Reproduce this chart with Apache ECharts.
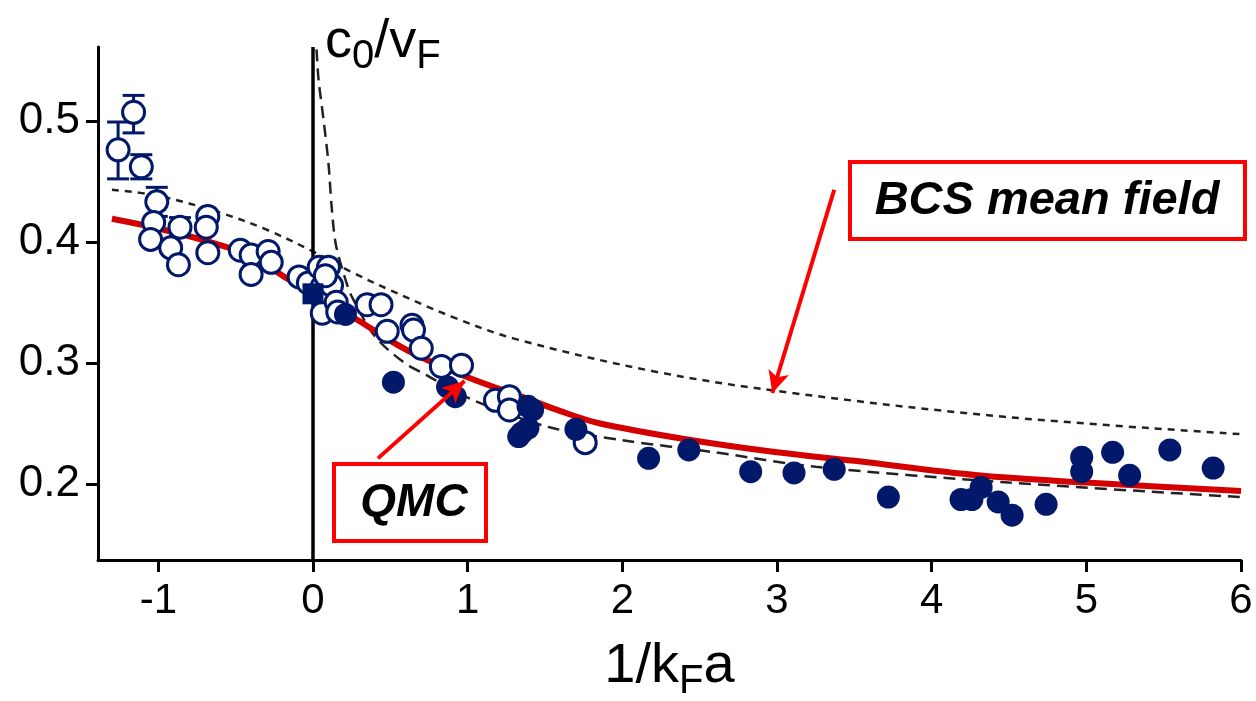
<!DOCTYPE html>
<html>
<head>
<meta charset="utf-8">
<script src="https://cdn.jsdelivr.net/npm/echarts@6/dist/echarts.min.js"></script>
<style>
html, body { margin: 0; padding: 0; background: #fff; }
#myChart { width: 1256px; height: 701px; }
</style>
</head>
<body>
<div id="myChart"></div>
<script>
// 刻度
const xTicks = [-1, 0, 1, 2, 3, 4, 5, 6]
const yTicks = [0.2, 0.3, 0.4, 0.5]

// QMC 曲线 (红)
const qmcLine = [[-1.3, 0.419], [-1.0, 0.411], [-0.7, 0.401], [-0.4, 0.388], [-0.16, 0.369], [0, 0.357],
    [0.28, 0.336], [0.6, 0.311], [1.0, 0.288], [1.37, 0.271], [1.6, 0.26], [1.85, 0.25], [2.4, 0.237],
    [3.0, 0.226], [3.5, 0.219], [4.3, 0.207], [5.0, 0.201], [6.0, 0.194]]
// BCS mean field (点线)
const bcsLine = [[-1.3, 0.443], [-1.0, 0.438], [-0.6, 0.424], [-0.3, 0.41], [0, 0.392], [0.25, 0.375],
    [0.5, 0.36], [0.9, 0.338], [1.3, 0.32], [2.2, 0.293], [3.1, 0.275], [4.5, 0.255], [6, 0.241]]
// BEC 侧 (虚线)
const becLine = [[0.023, 0.559], [0.036, 0.534], [0.068, 0.501], [0.1, 0.465], [0.12, 0.43], [0.146, 0.399],
    [0.2, 0.373], [0.25, 0.355], [0.4, 0.322], [0.58, 0.301], [0.73, 0.29], [1.02, 0.27], [1.52, 0.247],
    [2.0, 0.236], [2.6, 0.226], [3.25, 0.214], [4.5, 0.201], [6, 0.189]]

// 实验点
const openPts = [[-1.26, 0.476], [-1.16, 0.507], [-1.11, 0.462], [-1.01, 0.433], [-1.03, 0.416], [-1.05, 0.402],
    [-0.92, 0.395], [-0.87, 0.381], [-0.86, 0.412], [-0.68, 0.421], [-0.69, 0.412], [-0.68, 0.391],
    [-0.47, 0.393], [-0.40, 0.389], [-0.40, 0.373], [-0.29, 0.392], [-0.27, 0.383], [-0.09, 0.371],
    [-0.03, 0.366], [0.04, 0.379], [0.06, 0.363], [0.10, 0.352], [0.06, 0.341], [0.10, 0.379], [0.12, 0.364],
    [0.15, 0.350], [0.16, 0.342], [0.08, 0.372], [0.35, 0.348], [0.44, 0.348], [0.48, 0.326], [0.64, 0.331],
    [0.65, 0.327], [0.70, 0.312], [0.83, 0.297], [0.96, 0.298], [1.18, 0.269], [1.27, 0.272], [1.27, 0.261],
    [1.76, 0.234]]
const filledPts = [[0.21, 0.340], [0.52, 0.284], [0.87, 0.280], [0.92, 0.272], [1.39, 0.264], [1.42, 0.261],
    [1.33, 0.239], [1.35, 0.242], [1.39, 0.246], [1.70, 0.245], [2.17, 0.221], [2.43, 0.228], [2.83, 0.210],
    [3.11, 0.209], [3.37, 0.212], [3.72, 0.189], [4.19, 0.187], [4.26, 0.187], [4.32, 0.197], [4.43, 0.185],
    [4.52, 0.174], [4.74, 0.183], [4.97, 0.222], [4.97, 0.210], [5.17, 0.226], [5.28, 0.207], [5.54, 0.228],
    [5.82, 0.213]]
const squarePts = [[0.0, 0.357]]
// 误差棒 [x, y, 下, 上]
const errBars = [[-1.26, 0.476, 0.452, 0.499], [-1.16, 0.507, 0.490, 0.521], [-1.11, 0.462, 0.452, 0.472],
    [-1.01, 0.433, 0.421, 0.445], [-0.86, 0.412, 0.405, 0.420]]

// 箭头
const bcsArrow = [[3.37, 0.443], [2.97, 0.275]]
const qmcArrow = [[0.42, 0.221], [0.98, 0.285]]

const navy = '#02186a'
const font = '"Liberation Sans", Arial, sans-serif'
const narrow = '"Liberation Sans Narrow", "Liberation Sans", Arial, sans-serif'

let myChart = echarts.init(document.getElementById('myChart'))

let option = {
    animation: false,
    backgroundColor: '#fff',
    title: {
        text: '{a|c}{s|0}{a|/v}{s|F}',
        left: 320,
        top: 2,
        textStyle: {
            rich: {
                a: { fontSize: 54, fontFamily: font, fontWeight: 'normal', color: '#000' },
                s: { fontSize: 40, fontFamily: narrow, fontWeight: 'normal', color: '#000', padding: [30, 0, 0, 0] }
            }
        }
    },
    grid: {
        left: 98,
        right: 15,
        top: 47,
        bottom: 141,
        outerBoundsMode: 'none'
    },
    xAxis: {
        type: 'value',
        min: -1.39,
        max: 6,
        splitLine: { show: false },
        axisLine: { onZero: false, lineStyle: { color: '#000', width: 3 } },
        axisTick: { customValues: xTicks, length: 12, lineStyle: { color: '#000', width: 3 } },
        axisLabel: {
            customValues: xTicks,
            margin: 20,
            fontSize: 42,
            fontFamily: narrow,
            color: '#000'
        },
        name: '{a|1/k}{s|F}{a|a}',
        nameLocation: 'middle',
        nameGap: 72,
        nameTextStyle: {
            rich: {
                a: { fontSize: 56, fontFamily: narrow, color: '#000' },
                s: { fontSize: 40, fontFamily: narrow, color: '#000', padding: [30, 0, 0, 0] }
            }
        }
    },
    yAxis: {
        type: 'value',
        min: 0.137,
        max: 0.561,
        splitLine: { show: false },
        axisLine: { onZero: false, lineStyle: { color: '#000', width: 3 } },
        axisTick: { customValues: yTicks, length: 12, lineStyle: { color: '#000', width: 3 } },
        axisLabel: {
            customValues: yTicks,
            margin: 18,
            fontSize: 44,
            fontFamily: font,
            color: '#000',
            formatter: v => v.toFixed(1)
        }
    },
    graphic: [
        {
            type: 'rect',
            shape: { x: 850, y: 162, width: 395, height: 77 },
            style: { fill: '#fff', stroke: '#ff0000', lineWidth: 4 },
            z: 100
        },
        {
            type: 'text',
            x: 1047, y: 201,
            style: {
                text: 'BCS mean field', fontSize: 47, fontWeight: 'bold', fontStyle: 'italic',
                fontFamily: font, fill: '#000', align: 'center', verticalAlign: 'middle'
            },
            z: 101
        },
        {
            type: 'rect',
            shape: { x: 334, y: 464, width: 152, height: 77 },
            style: { fill: '#fff', stroke: '#ff0000', lineWidth: 4 },
            z: 100
        },
        {
            type: 'text',
            x: 414, y: 503,
            style: {
                text: 'QMC', fontSize: 46, fontWeight: 'bold', fontStyle: 'italic',
                fontFamily: font, fill: '#000', align: 'center', verticalAlign: 'middle'
            },
            z: 101
        }
    ],
    series: [
        {
            name: 'BCS',
            type: 'line',
            data: bcsLine,
            smooth: 0.35,
            showSymbol: false,
            z: 2,
            lineStyle: { color: '#222', width: 2.5, type: [7, 6] },
            markLine: {
                silent: true,
                symbol: 'none',
                label: { show: false },
                lineStyle: { color: '#000', width: 3.5, type: 'solid' },
                data: [{ xAxis: 0 }]
            }
        },
        {
            name: 'BEC',
            type: 'line',
            data: becLine,
            smooth: 0.3,
            showSymbol: false,
            z: 2,
            lineStyle: { color: '#222', width: 2.5, type: [12, 7] }
        },
        {
            name: 'QMC',
            type: 'line',
            data: qmcLine,
            smooth: 0.35,
            showSymbol: false,
            z: 3,
            lineStyle: { color: '#d40000', width: 6 },
            markLine: {
                silent: true,
                symbol: ['none', 'arrow'],
                symbolSize: [16, 22],
                label: { show: false },
                lineStyle: { color: '#ff0000', width: 4, type: 'solid' },
                data: [
                    [{ coord: bcsArrow[0] }, { coord: bcsArrow[1] }],
                    [{ coord: qmcArrow[0] }, { coord: qmcArrow[1] }]
                ],
                z: 50
            }
        },
        {
            type: 'custom',
            data: errBars,
            z: 4,
            encode: { x: 0, y: 1 },
            renderItem: function (params, api) {
                let x = api.value(0)
                let lo = api.coord([x, api.value(2)])
                let hi = api.coord([x, api.value(3)])
                let w = 11
                return {
                    type: 'group',
                    children: [
                        { type: 'line', shape: { x1: lo[0], y1: lo[1], x2: hi[0], y2: hi[1] }, style: { stroke: navy, lineWidth: 3 } },
                        { type: 'line', shape: { x1: lo[0] - w, y1: lo[1], x2: lo[0] + w, y2: lo[1] }, style: { stroke: navy, lineWidth: 3 } },
                        { type: 'line', shape: { x1: hi[0] - w, y1: hi[1], x2: hi[0] + w, y2: hi[1] }, style: { stroke: navy, lineWidth: 3 } }
                    ]
                }
            }
        },
        {
            type: 'scatter',
            data: openPts,
            symbol: 'circle',
            symbolSize: 22,
            z: 5,
            itemStyle: { color: '#fff', borderColor: navy, borderWidth: 3, opacity: 1 }
        },
        {
            type: 'scatter',
            data: filledPts,
            symbol: 'circle',
            symbolSize: 23,
            z: 6,
            itemStyle: { color: navy, opacity: 1 }
        },
        {
            type: 'scatter',
            data: squarePts,
            symbol: 'rect',
            symbolSize: 21,
            z: 6,
            itemStyle: { color: navy, opacity: 1 }
        }
    ]
}
myChart.setOption(option)

window.addEventListener('resize', () => {
    myChart.resize()
})
</script>
</body>
</html>
